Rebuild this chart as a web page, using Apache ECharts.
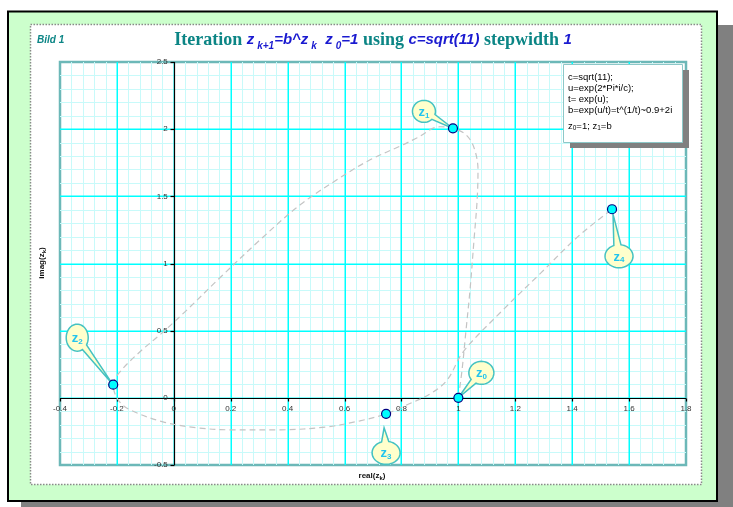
<!DOCTYPE html>
<html><head><meta charset="utf-8">
<script src="https://cdn.jsdelivr.net/npm/echarts@6/dist/echarts.min.js"></script>
<style>html,body{margin:0;padding:0;background:#fff}#chart{width:733px;height:507px}</style>
</head><body><div id="chart"></div>
<script>
// Iterates z_k = b^z_(k-1), z_0 = 1  (real and imaginary parts)
const iterRe = [1.000, 0.981, -0.213, 0.746, 1.540];
const iterIm = [0.000, 2.006, 0.098, -0.119, 1.404];
const iterNames = ['0', '1', '2', '3', '4'];

// Continuous path through the iterates
const pathRe = [1.000, 1.013, 1.027, 1.041, 1.055, 1.066, 1.069, 1.055, 1.027, 0.981,
                0.935, 0.855, 0.806, 0.690, 0.584, 0.444, 0.303, 0.162, 0.039, -0.049, -0.119, -0.189, -0.213,
                -0.196, -0.154, -0.038, 0.082, 0.198, 0.373, 0.539, 0.654, 0.746,
                0.820, 0.901, 0.961, 1.017, 1.150, 1.290, 1.420, 1.540];
const pathIm = [0.000, 0.208, 0.506, 0.804, 1.176, 1.474, 1.698, 1.862, 1.958, 2.006,
                2.018, 1.936, 1.884, 1.772, 1.638, 1.437, 1.176, 0.894, 0.640, 0.469, 0.343, 0.194, 0.098,
                -0.015, -0.089, -0.179, -0.223, -0.238, -0.238, -0.216, -0.171, -0.119,
                -0.052, 0.030, 0.134, 0.343, 0.640, 0.930, 1.200, 1.404];

// Axis ranges and tick labels
const xRange = [-0.4, 1.8], xMinorStep = 0.04;
const yRange = [-0.5, 2.5], yMinorStep = 0.1;
const xTickLabels = ['-0.4', '-0.2', '0', '0.2', '0.4', '0.6', '0.8', '1', '1.2', '1.4', '1.6', '1.8'];
const yTickLabels = ['-0.5', '0', '0.5', '1', '1.5', '2', '2.5'];

// Notes box text
const noteLines = ['c=sqrt(11);', 'u=exp(2*Pi*i/c);', 't= exp(u);', 'b=exp(u/t)=t^(1/t)~0.9+2i'];

// Callout bubble layout, per iterate: [centre dx, centre dy, rx, ry, tail tip dx, tail tip dy] in px
const calloutLayout = [
  [23, -25, 12.5, 11.5, 0, 0],
  [-29, -17, 11.5, 11, 0, 0],
  [-36, -47, 11, 13.5, -1, -1],
  [0, 39, 14, 11.5, -2, 14],
  [7, 47, 14, 11.5, 1, 5]
];

const TEAL = '#0b8585', BLUE = '#1a1ad0', BUBBLE_TXT = '#22c4ee';
const SANS = 'Liberation Sans, Arial, sans-serif';

const chart = echarts.init(document.getElementById('chart'), null, {renderer: 'canvas'});

const iterPts = iterRe.map((x, i) => [x, iterIm[i], iterNames[i]]);
const pathPts = pathRe.map((x, i) => [x, pathIm[i]]);

function bubbleOutline(cx, cy, rx, ry, tx, ty) {
  const th = Math.atan2((ty - cy) / ry, (tx - cx) / rx);
  const d = 0.26, n = 48, pts = [];
  for (let k = 0; k <= n; k++) {
    const a = th + d + (2 * Math.PI - 2 * d) * k / n;
    pts.push([cx + rx * Math.cos(a), cy + ry * Math.sin(a)]);
  }
  pts.push([tx, ty]);
  return pts;
}

const px = v => Math.round(v) + 0.5;
const pxMajor = v => Math.round(v) + 0.25;

// Grid lines, zero axes, ticks and tick labels, placed through the cartesian scales
function renderFrame(params, api) {
  const minor = [], major = [], axes = [], labels = [];
  const xMajors = xTickLabels.map(Number), yMajors = yTickLabels.map(Number);
  const near = (v, arr) => arr.some(m => Math.abs(m - v) < 1e-6);
  const nx = Math.round((xRange[1] - xRange[0]) / xMinorStep);
  const ny = Math.round((yRange[1] - yRange[0]) / yMinorStep);
  for (let k = 1; k < nx; k++) {
    const v = xRange[0] + k * xMinorStep;
    const a = api.coord([v, yRange[0]]), b = api.coord([v, yRange[1]]);
    if (near(v, xMajors)) major.push({x1: pxMajor(a[0]), y1: a[1], x2: pxMajor(a[0]), y2: b[1]});
    else minor.push({x1: px(a[0]), y1: a[1], x2: px(a[0]), y2: b[1]});
  }
  for (let k = 1; k < ny; k++) {
    const v = yRange[0] + k * yMinorStep;
    const a = api.coord([xRange[0], v]), b = api.coord([xRange[1], v]);
    if (near(v, yMajors)) major.push({x1: a[0], y1: pxMajor(a[1]), x2: b[0], y2: pxMajor(a[1])});
    else minor.push({x1: a[0], y1: px(a[1]), x2: b[0], y2: px(a[1])});
  }
  // zero axes
  const x0 = api.coord([0, 0]);
  const xa = api.coord([xRange[0], 0]), xb = api.coord([xRange[1], 0]);
  const ya = api.coord([0, yRange[0]]), yb = api.coord([0, yRange[1]]);
  axes.push({x1: xa[0], y1: px(x0[1]), x2: xb[0], y2: px(x0[1])});
  axes.push({x1: px(x0[0]), y1: ya[1], x2: px(x0[0]), y2: yb[1]});
  xTickLabels.forEach(t => {
    const p = api.coord([Number(t), 0]);
    axes.push({x1: px(p[0]), y1: px(p[1]), x2: px(p[0]), y2: px(p[1]) + 3});
    labels.push({type: 'text', x: p[0], y: p[1] + 11,
      style: {text: t, fontSize: 8, fontFamily: SANS, fill: '#333', align: 'center', verticalAlign: 'middle'}});
  });
  yTickLabels.forEach(t => {
    const p = api.coord([0, Number(t)]);
    axes.push({x1: px(p[0]) - 4, y1: px(p[1]), x2: px(p[0]), y2: px(p[1])});
    labels.push({type: 'text', x: p[0] - 6, y: p[1],
      style: {text: t, fontSize: 8, fontFamily: SANS, fill: '#333', align: 'right', verticalAlign: 'middle'}});
  });
  return {
    type: 'group',
    children: minor.map(s => ({type: 'line', shape: s, style: {stroke: '#c8fafa', lineWidth: 1}}))
      .concat(major.map(s => ({type: 'line', shape: s, style: {stroke: '#00ffff', lineWidth: 1.5}})))
      .concat(axes.map(s => ({type: 'line', shape: s, style: {stroke: '#000', lineWidth: 1.2}})))
      .concat(labels)
  };
}

const option = {
  animation: false,
  backgroundColor: '#ffffff',
  grid: {
    left: 60, top: 62, right: 47, bottom: 42,
    show: true, backgroundColor: '#ffffff', borderColor: '#6cb8b8', borderWidth: 2.5,
    containLabel: false
  },
  xAxis: {type: 'value', min: xRange[0], max: xRange[1], show: false},
  yAxis: {type: 'value', min: yRange[0], max: yRange[1], show: false},
  series: [
    {type: 'custom', name: 'frame', data: [[xRange[0], yRange[0]]], z: 1, silent: true, clip: false,
      renderItem: renderFrame},
    {
      type: 'line', name: 'path', data: pathPts, smooth: 0.35, symbol: 'none', z: 3,
      lineStyle: {color: '#c4c4c4', width: 1.2, type: [6, 4]}
    },
    {
      type: 'custom', name: 'callouts', data: iterPts, z: 4, clip: false,
      renderItem: function (params, api) {
        const i = params.dataIndex;
        const p = api.coord([api.value(0), api.value(1)]);
        const L = calloutLayout[i];
        const cx = p[0] + L[0], cy = p[1] + L[1];
        const tx = p[0] + L[4], ty = p[1] + L[5];
        return {
          type: 'group',
          children: [
            {type: 'polygon', shape: {points: bubbleOutline(cx, cy, L[2], L[3], tx, ty)},
              style: {fill: '#ffffcc', stroke: '#45c2c2', lineWidth: 1.5}},
            {type: 'text', x: cx, y: cy + 1,
              style: {
                text: '{z|z}{s|' + iterNames[i] + '}', align: 'center', verticalAlign: 'middle',
                rich: {
                  z: {fontSize: 13, fontWeight: 'bold', fontFamily: SANS, fill: BUBBLE_TXT, lineHeight: 14},
                  s: {fontSize: 8, fontWeight: 'bold', fontFamily: SANS, fill: BUBBLE_TXT, lineHeight: 6, verticalAlign: 'bottom'}
                }
              }}
          ]
        };
      }
    },
    {
      type: 'scatter', name: 'iterates', data: iterPts, z: 5,
      symbol: 'circle', symbolSize: 9,
      itemStyle: {color: '#00ffff', borderColor: '#000080', borderWidth: 1.2, opacity: 1}
    }
  ],
  graphic: [
    {type: 'rect', z: -30, shape: {x: 21, y: 25, width: 712, height: 482}, style: {fill: '#808080'}},
    {type: 'rect', z: -29, shape: {x: 8, y: 11.5, width: 709, height: 489.5}, style: {fill: '#ccffcc', stroke: '#000', lineWidth: 2}},
    {type: 'rect', z: -28, shape: {x: 30.5, y: 24.5, width: 671, height: 460}, style: {fill: '#fff', stroke: '#8a8a8a', lineWidth: 1.5, lineDash: [1.5, 1.5]}},
    {type: 'text', z: 10, x: 37, y: 40, style: {text: 'Bild 1', fontSize: 10, fontStyle: 'italic', fontWeight: 'bold', fontFamily: SANS, fill: TEAL, verticalAlign: 'middle'}},
    {type: 'text', z: 10, x: 373, y: 40, style: {
      text: '{t|Iteration }{b|z}{bs|k+1}{b|=b^z}{bs|k}{b|  z}{bs|0}{b|=1}{t| using }{b|c=sqrt(11)}{t| stepwidth }{b|1}',
      align: 'center', verticalAlign: 'middle',
      rich: {
        t: {fontFamily: 'Liberation Serif, serif', fontWeight: 'bold', fontSize: 18, fill: TEAL, lineHeight: 22},
        b: {fontFamily: SANS, fontStyle: 'italic', fontWeight: 'bold', fontSize: 15, fill: BLUE, lineHeight: 22},
        bs: {fontFamily: SANS, fontStyle: 'italic', fontWeight: 'bold', fontSize: 10, fill: BLUE, lineHeight: 10, verticalAlign: 'bottom', padding: [0, 0, 0, 3]}
      }}},
    {type: 'text', z: 10, x: 372, y: 476, style: {
      text: '{a|real(z}{s|k}{a|)}', align: 'center', verticalAlign: 'middle',
      rich: {a: {fontSize: 8, fontWeight: 'bold', fontFamily: SANS, fill: '#111', lineHeight: 10},
             s: {fontSize: 6, fontWeight: 'bold', fontFamily: SANS, fill: '#111', lineHeight: 5, verticalAlign: 'bottom'}}}},
    {type: 'text', z: 10, x: 42, y: 263, rotation: Math.PI / 2, style: {
      text: '{a|imag(z}{s|k}{a|)}', align: 'center', verticalAlign: 'middle',
      rich: {a: {fontSize: 8, fontWeight: 'bold', fontFamily: SANS, fill: '#111', lineHeight: 10},
             s: {fontSize: 6, fontWeight: 'bold', fontFamily: SANS, fill: '#111', lineHeight: 5, verticalAlign: 'bottom'}}}},
    {type: 'group', z: 50, children: [
      {type: 'rect', z: 50, shape: {x: 570, y: 70, width: 119, height: 78}, style: {fill: '#808080'}},
      {type: 'rect', z: 51, shape: {x: 563.5, y: 64.5, width: 119, height: 78}, style: {fill: '#fff', stroke: '#8cc8c8', lineWidth: 1}}
    ].concat(noteLines.map((s, k) => ({
      type: 'text', z: 52, x: 568, y: 77.7 + k * 10.8,
      style: {text: s, fontSize: 9.5, fontFamily: SANS, fill: '#000', verticalAlign: 'middle'}
    }))).concat([{
      type: 'text', z: 52, x: 568, y: 126,
      style: {text: '{a|z}{s|0}{a|=1; z}{s|1}{a|=b}', verticalAlign: 'middle',
        rich: {a: {fontSize: 9.5, fontFamily: SANS, fill: '#000', lineHeight: 12},
               s: {fontSize: 6.5, fontFamily: SANS, fill: '#000', lineHeight: 6, verticalAlign: 'bottom'}}}
    }])}
  ]
};
chart.setOption(option);
</script></body></html>
